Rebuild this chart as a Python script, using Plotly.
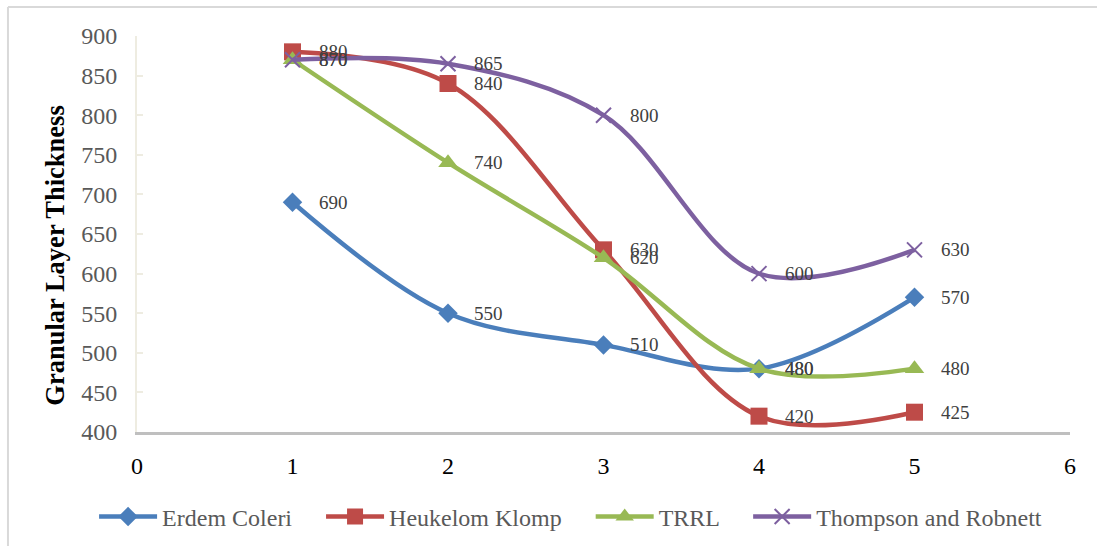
import plotly.graph_objects as go

x_vals = [1, 2, 3, 4, 5]
erdem_coleri = [690, 550, 510, 480, 570]
heukelom_klomp = [880, 840, 630, 420, 425]
trrl = [870, 740, 620, 480, 480]
thompson_robnett = [870, 865, 800, 600, 630]

series_names = ["Erdem Coleri", "Heukelom Klomp", "TRRL", "Thompson and Robnett"]
series_values = [erdem_coleri, heukelom_klomp, trrl, thompson_robnett]
colors = ["#4A7EBB", "#BE4B48", "#98B954", "#7D60A0"]
symbols = ["diamond", "square", "triangle-up", "x-thin"]
marker_sizes = [15, 17, 17, 15]

x_ticks = [0, 1, 2, 3, 4, 5, 6]
y_ticks = [400, 450, 500, 550, 600, 650, 700, 750, 800, 850, 900]

FONT = "Liberation Serif"

fig = go.Figure()
annotations = []
for name, vals, col, sym, ms in zip(series_names, series_values, colors, symbols, marker_sizes):
    marker = dict(symbol=sym, size=ms, color=col)
    if sym == "x-thin":
        marker["line"] = dict(color=col, width=2)
    fig.add_trace(go.Scatter(
        x=x_vals, y=vals, name=name + "    ", mode="lines+markers",
        line=dict(color=col, width=4.5, shape="spline", smoothing=1.0),
        marker=marker,
    ))
    for xv, yv in zip(x_vals, vals):
        annotations.append(dict(
            x=xv, y=yv, xref="x", yref="y", text=str(yv), showarrow=False,
            xanchor="left", yanchor="middle", xshift=24,
            font=dict(family=FONT, size=19, color="#404040"),
        ))

# vertical axis title
annotations.append(dict(
    x=-0.088, y=0.445, xref="paper", yref="paper", text="<b>Granular Layer Thickness</b>",
    showarrow=False, textangle=-90, xanchor="center", yanchor="middle",
    font=dict(family=FONT, size=26.5, color="#000000"),
))

# outer chart border (top and left edges visible)
shapes = [
    dict(type="line", xref="paper", yref="paper", x0=-0.1383, x1=1.03, y0=1.0732, y1=1.0732,
         line=dict(color="#D9D9D9", width=2)),
    dict(type="line", xref="paper", yref="paper", x0=-0.1383, x1=-0.1383, y0=1.0732, y1=-0.30,
         line=dict(color="#D9D9D9", width=2)),
]

fig.update_layout(
    width=1097, height=546,
    margin=dict(l=137, r=27, t=36, b=114, autoexpand=False),
    paper_bgcolor="white", plot_bgcolor="white",
    font=dict(family=FONT),
    showlegend=True,
    legend=dict(orientation="h", x=-0.046, xanchor="left", y=-0.2146, yanchor="middle",
                font=dict(family=FONT, size=24, color="#595959"), itemwidth=58,
                traceorder="normal"),
    annotations=annotations,
    shapes=shapes,
    xaxis=dict(range=[0, 6], tickvals=x_ticks, showgrid=False, zeroline=False,
               showline=True, linecolor="#BFBFBF", linewidth=3,
               ticks="", tickfont=dict(family=FONT, size=24, color="#000000"),
               ticklabelstandoff=10),
    yaxis=dict(range=[400, 900], tickvals=y_ticks, showgrid=False, zeroline=False,
               showline=True, linecolor="#EEECE1", linewidth=2,
               ticks="inside", ticklen=6, tickcolor="#EEECE1", tickwidth=2,
               ticklabelstandoff=13,
               tickfont=dict(family=FONT, size=24, color="#595959")),
)

fig.write_html("out.html")
